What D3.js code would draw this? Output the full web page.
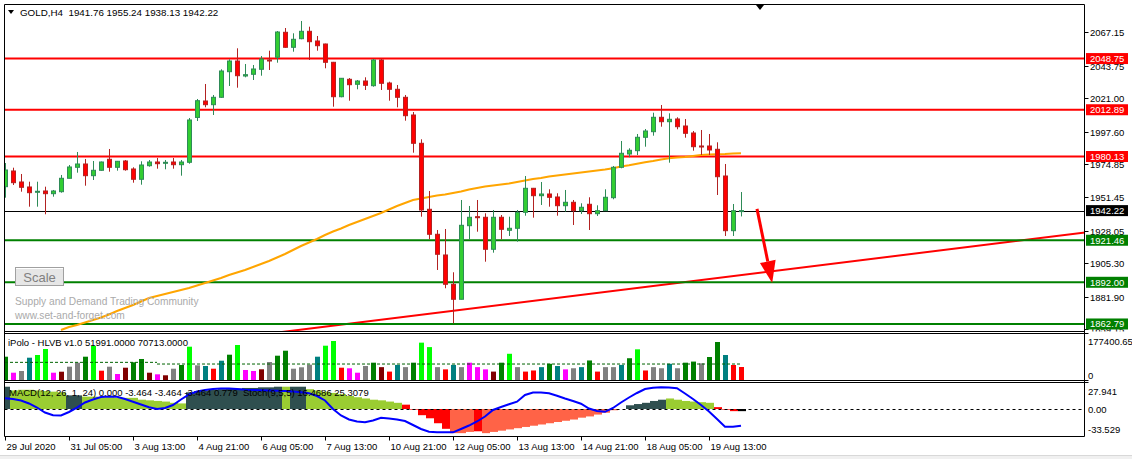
<!DOCTYPE html>
<html><head><meta charset="utf-8">
<script src="https://cdn.jsdelivr.net/npm/d3@7"></script>
<style>html,body{margin:0;padding:0;background:#fff;}svg{display:block;}text{font-family:"Liberation Sans",Arial,sans-serif;}</style>
</head><body>
<script>
// ---------------- DATA ----------------
const timeLabels = ["29 Jul 2020","31 Jul 05:00","3 Aug 13:00","4 Aug 21:00","6 Aug 05:00","7 Aug 13:00","10 Aug 21:00","12 Aug 05:00","13 Aug 13:00","14 Aug 21:00","18 Aug 05:00","19 Aug 13:00"];
const timeLabelIndex = [0,8,16,24,32,40,48,56,64,72,80,88];
const priceTicks = ["2067.15","2043.75","2021.00","1997.60","1974.85","1951.45","1928.05","1905.30","1881.90","1859.15"];

const opens  = [1958.98,1969.98,1962.27,1958.77,1955.27,1955.97,1954.08,1955.47,1964.86,1972.57,1974.88,1966.69,1970.47,1978.18,1972.57,1976.98,1971.38,1964.16,1973.69,1976.27,1975.37,1976.27,1974.39,1976.07,2007.5,2019.02,2016.43,2021.61,2039.55,2047.04,2036.53,2037.73,2041.23,2047.74,2049.64,2067.15,2056.64,2062.67,2067.85,2061.06,2058.95,2046.13,2022.03,2034.22,2030.72,2033.03,2029.74,2047.74,2031.63,2027.22,2021.61,2009.21,1989.38,1943.15,1925.63,1911.13,1890.60,1880.09,1931.65,1937.96,1937.54,1915.11,1937.54,1928.43,1929.83,1941.04,1957.85,1952.67,1953.86,1951.76,1945.66,1948.05,1942.16,1946.65,1940.06,1942.16,1951.27,1972.57,1981.89,1984.20,1993.59,1997.51,2007.60,2004.52,2006.41,2001.50,1996.60,1987.49,1987.49,1985.18,1966.47,1928.15,1941.76];
const highs  = [1975.58,1972.29,1967.87,1962.48,1962.48,1958.98,1956.67,1967.18,1974.18,1983.29,1978.39,1976.98,1976.6,1985.39,1977.0,1977.68,1972.57,1976.77,1977.68,1979.09,1977.68,1979.09,1977.68,2007.11,2020.42,2030.93,2023.22,2041.23,2048.23,2055.94,2044.94,2044.24,2050.55,2054.26,2068.06,2070.16,2066.45,2075.07,2071.07,2064.56,2059.2,2046.4,2035.0,2035.13,2033.73,2035.62,2048.45,2048.45,2032.54,2030.23,2023.22,2011.31,1992.19,1955.97,1928.64,1929.34,1899.01,1949.66,1945.46,1949.66,1940.34,1942.65,1939.15,1937.96,1942.65,1966.47,1958.1,1962.27,1957.16,1954.36,1956.67,1949.66,1947.35,1951.55,1945.94,1957.16,1973.48,1991.00,1985.88,1995.90,1999.40,2010.82,2016.22,2010.40,2007.60,2006.41,1998.00,1998.70,1995.90,1990.08,1974.88,1946.86,1955.24];
const lows   = [1951.27,1960.17,1955.47,1944.97,1944.97,1939.64,1951.97,1954.78,1964.86,1968.79,1959.67,1963.67,1970.2,1969.49,1970.19,1970.19,1961.78,1960.38,1972.99,1971.59,1971.17,1971.59,1966.69,1975.09,2005.0,2014.61,2009.21,2021.2,2029.53,2028.34,2035.62,2033.73,2036.74,2040.74,2045.85,2056.3,2053.56,2062.25,2047.74,2054.26,2041.93,2015.03,2021.61,2019.23,2027.22,2026.73,2029.04,2026.73,2019.23,2014.61,2005.22,1982.80,1937.96,1922.13,1900.62,1887.80,1863.28,1880.0,1922.13,1927.45,1906.43,1912.74,1922.13,1924.44,1920.45,1938.66,1937.26,1946.16,1944.97,1938.66,1941.46,1932.14,1939.85,1928.64,1938.45,1942.0,1950.15,1971.87,1979.58,1981.19,1987.00,1994.71,2001.01,1975.79,1999.19,1993.31,1984.20,1981.19,1981.19,1953.16,1924.44,1924.44,1938.13];
const closes = [1970.68,1961.78,1958.55,1954.78,1955.76,1954.08,1955.97,1964.86,1972.78,1974.88,1966.69,1970.47,1976.27,1972.57,1976.77,1970.89,1964.16,1974.18,1976.27,1975.09,1976.07,1974.39,1976.27,2005.71,2019.23,2016.43,2021.61,2040.04,2047.04,2036.74,2037.45,2041.44,2048.45,2047.25,2067.36,2056.64,2062.25,2067.85,2060.56,2057.76,2046.13,2022.03,2034.92,2030.44,2033.03,2030.02,2047.74,2031.42,2027.22,2021.61,2008.72,1989.38,1942.65,1925.63,1911.62,1890.60,1880.09,1931.93,1937.54,1937.26,1915.11,1937.54,1929.13,1929.83,1941.04,1957.85,1952.67,1953.86,1951.55,1945.66,1948.05,1942.16,1944.55,1940.06,1942.16,1951.55,1972.57,1982.38,1984.48,1993.59,1998.00,2007.60,2004.52,2006.20,2001.01,1996.39,1987.00,1987.28,1984.69,1965.98,1928.15,1942.16,1942.22];

// moving average (orange), starts at bar 7
const maStart = 7;
const maValues = [1858.58,1860.68,1862.08,1863.83,1865.59,1867.34,1869.44,1871.89,1873.99,1876.09,1878.54,1881.00,1882.40,1883.80,1885.20,1886.61,1888.01,1889.76,1891.51,1893.26,1895.01,1897.11,1898.86,1900.62,1902.72,1904.82,1906.92,1909.37,1911.83,1914.63,1917.43,1919.88,1922.33,1925.14,1927.59,1929.69,1932.14,1934.24,1936.35,1938.45,1940.55,1943.01,1945.46,1947.56,1949.66,1950.71,1951.76,1952.81,1953.51,1954.56,1955.62,1957.02,1958.07,1959.12,1959.82,1960.52,1961.22,1962.27,1963.32,1964.37,1965.07,1966.12,1966.82,1967.53,1968.23,1968.93,1969.63,1970.33,1971.03,1971.87,1973.13,1973.97,1975.02,1976.07,1976.98,1978.04,1978.88,1979.44,1979.79,1980.49,1981.19,1981.54,1981.75,1981.89,1982.17,1982.38];

const resistanceLevels = [2048.75, 2012.89, 1980.13];
const supportLevels = [1921.46, 1892.00, 1862.79];
const currentPrice = 1942.22;
const trendAnchors = [{i:30, p:1853.96},{i:136, p:1927.6}];
const arrowAnchors = {i0:94.0, p0:1943.4, i1:95.9, p1:1891.5};

// volume (iPolo HLVB)
const volumes = [106900,35000,42700,102400,114500,141500,35000,39500,62000,80000,106900,155000,44000,62000,29200,57500,81700,96600,35000,27800,23400,53000,69600,151800,68300,65100,53000,88900,115900,159400,47200,42700,50300,83100,111400,133800,53000,59300,71000,106900,156300,177400,57500,54800,35000,65100,80000,60000,40000,70000,60000,80000,170000,150000,60000,50000,70000,60000,80000,60000,50000,40000,80000,120000,60000,40000,45000,60000,75000,65000,50000,55000,60000,90000,40000,60000,60000,70000,100000,140000,45000,60000,55000,75000,55000,80000,85000,77200,105500,172900,114500,69600,60600];
const volColorCodes = "GMYTLLMNYYGLRYMNGGNMNYGLYTRTGLMMNYGGYYYTLLRMMYGNRTYGLLYRTYMMMNGLYRRTGTMYTGRYYTGLRYYTYGGYGGTRR";
const volColorMap = {G:"#008000",L:"#00FF00",M:"#FF00FF",Y:"#808080",T:"#008080",R:"#FF0000",N:"#800000"};
const volAvgSegments = [{from:0,to:19,v:81500},{from:19,to:92,v:74000}];
const volumeMax = 177400.65;

// MACD histogram and stochastic
const macdHist = [36,30,31,31,30,29,28,27,22,22,20,20,19,19,18,18,18,15,14,13,12,10,9,27,29,30,31,32,33,33,34,34,35,35,36,36,36,36,32,30,28,26,24,21,19,17,15,14,12,10,7,-1,-10,-15,-23,-32,-39,-39,-37,-36,-39,-37,-35,-33,-31,-29,-27,-25,-23,-21,-19,-17,-14,-12,-9,-6,-2,0,6,8,10,13,15,17,15,13,12,11,10,3,-1,-3.464,-3.464];
const macdColorCodes = "DYYYYYYYDDYYYYYYYYYYYYYDDDDDDDDDDDDYDDYYYYYYYYYYYYRRRRRRTTTRTTTTTTTTTTTTTTTTTDDDDDDYYYYYYRRR";
const macdColorMap = {Y:"#9ACD32",D:"#2F4F4F",R:"#FF0000",T:"#FF6347"};
const stochValues = [74.1,72.6,69.5,63.2,54.7,44.2,38.3,37.9,45.3,54.7,65.3,71.6,76.8,77.9,77.5,72.6,66.9,61.1,55.2,51.6,53.7,60.0,71.6,82.5,88.4,91.6,93.7,94.7,94.7,93.7,92.2,91.6,90.9,90.5,90.1,89.5,88.4,86.7,84.8,78.9,69.5,51.6,37.9,29.5,25.3,23.8,27.4,33.3,31.6,29.5,26.3,17.9,9.5,3.6,2.7,2.5,2.5,9.5,16.8,25.3,35.8,49.5,55.8,61.5,66.9,81.1,86.3,86.3,84.6,79.6,73.7,68.4,62.7,52.6,47.4,45.7,53.7,65.3,75.8,85.3,93.7,96.2,97.3,96.8,95.2,84.2,72.6,60.0,46.3,30.5,14.3,14.3,16.5];
const macdTicks = [27.941, 0, -33.529];
const macdTickLabels = ["27.941","0.00","-33.529"];

const headerText = "GOLD,H4  1941.76 1955.24 1938.13 1942.22";
const volHeader = "iPolo - HLVB v1.0 51991.0000 70713.0000";
const macdHeader = "MACD(12, 26, 1, 24) 0.000 -3.464 -3.464 -3.464 0.779  Stoch(9,5,5) 16.4686 25.3079";
const watermark = ["Supply and Demand Trading Community","www.set-and-forget.com"];

// ---------------- LAYOUT ----------------
const W = 1132, H = 459;
const L = 4.5, R = 1084.5;
const main = {top:4.5, bottom:331.5};
const volP = {top:334, bottom:380.5};
const macdP = {top:382.5, bottom:436.5};

const svg = d3.select("body").append("svg").attr("width",W).attr("height",H);
svg.append("rect").attr("width",W).attr("height",H).attr("fill","#ffffff");
svg.append("rect").attr("x",0).attr("y",455).attr("width",W).attr("height",4).attr("fill","#f0f0f0");
svg.append("line").attr("x1",0).attr("x2",W).attr("y1",455.5).attr("y2",455.5).attr("stroke","#d8d8d8");

const defs = svg.append("defs");
defs.append("clipPath").attr("id","cMain").append("rect").attr("x",L).attr("y",main.top).attr("width",R-L).attr("height",main.bottom-main.top);
defs.append("clipPath").attr("id","cMainAxis").append("rect").attr("x",R).attr("y",main.top).attr("width",W-R).attr("height",main.bottom-main.top);
defs.append("clipPath").attr("id","cVol").append("rect").attr("x",L).attr("y",volP.top).attr("width",R-L).attr("height",volP.bottom-volP.top);
defs.append("clipPath").attr("id","cMacd").append("rect").attr("x",L).attr("y",macdP.top).attr("width",R-L).attr("height",macdP.bottom-macdP.top);

const x = d3.scaleLinear().domain([0,92]).range([5,741]);
const y = d3.scaleLinear().domain([2067.15,1881.90]).range([32.3,296.7]);
const yv = d3.scaleLinear().domain([0,volumeMax]).range([380.5,341]);
const ym = d3.scaleLinear().domain([0,27.941]).range([409,391.7]);
const ys = d3.scaleLinear().domain([0,100]).range([433.5,386]);

// ---------- main panel ----------
const gm = svg.append("g").attr("clip-path","url(#cMain)");

svg.append("text").attr("x",15).attr("y",304.5).attr("font-size",10.2).attr("fill","#aaaaaa").text(watermark[0]);
svg.append("text").attr("x",15).attr("y",319).attr("font-size",10.2).attr("fill","#aaaaaa").text(watermark[1]);

const idx = d3.range(opens.length);
gm.append("line").attr("x1",x(trendAnchors[0].i)).attr("y1",y(trendAnchors[0].p)).attr("x2",x(trendAnchors[1].i)).attr("y2",y(trendAnchors[1].p)).attr("stroke","#ff0000").attr("stroke-width",2);

resistanceLevels.forEach(p=>gm.append("line").attr("x1",L).attr("x2",R).attr("y1",y(p)).attr("y2",y(p)).attr("stroke","#ff0000").attr("stroke-width",2));
supportLevels.forEach(p=>gm.append("line").attr("x1",L).attr("x2",R).attr("y1",y(p)).attr("y2",y(p)).attr("stroke","#008000").attr("stroke-width",2));
gm.append("line").attr("x1",L).attr("x2",R).attr("y1",Math.round(y(currentPrice))+0.5).attr("y2",Math.round(y(currentPrice))+0.5).attr("stroke","#000").attr("stroke-width",1);

gm.append("path").datum(maValues).attr("fill","none").attr("stroke","#FFA500").attr("stroke-width",2)
  .attr("d",d3.line().x((d,k)=>x(k+maStart)).y(d=>y(d)));

const gc = gm.append("g");
idx.forEach(i=>{
  const up = closes[i] >= opens[i];
  const cx = Math.round(x(i))+0.5;
  const col = up ? "#2E8B57" : "#B22222";
  gc.append("line").attr("x1",cx).attr("x2",cx).attr("y1",y(highs[i])).attr("y2",y(lows[i])).attr("stroke",col).attr("stroke-width",1);
  const top = Math.min(y(opens[i]),y(closes[i])), bot = Math.max(y(opens[i]),y(closes[i]));
  gc.append("rect").attr("x",cx-2).attr("y",top).attr("width",4).attr("height",Math.max(1,bot-top))
    .attr("fill",up?"#32CD32":"#FF0000").attr("stroke",col).attr("stroke-width",1);
});

const ax0=x(arrowAnchors.i0), ay0=y(arrowAnchors.p0), ax1=x(arrowAnchors.i1), ay1=y(arrowAnchors.p1);
const ang = Math.atan2(ay1-ay0, ax1-ax0);
const hl = 22, hw = 8;
const bx = ax1 - hl*Math.cos(ang), by = ay1 - hl*Math.sin(ang);
gm.append("line").attr("x1",ax0).attr("y1",ay0).attr("x2",bx).attr("y2",by).attr("stroke","#ff0000").attr("stroke-width",3);
gm.append("path").attr("d",`M${ax1},${ay1}L${bx+hw*Math.sin(ang)},${by-hw*Math.cos(ang)}L${bx-hw*Math.sin(ang)},${by+hw*Math.cos(ang)}Z`).attr("fill","#ff0000");

svg.append("rect").attr("x",15.5).attr("y",267.5).attr("width",48).attr("height",18).attr("fill","#e6e6e6").attr("stroke","#a0a0a0");
svg.append("line").attr("x1",16).attr("x2",63).attr("y1",268.5).attr("y2",268.5).attr("stroke","#ffffff");
svg.append("text").attr("x",39.5).attr("y",281.5).attr("text-anchor","middle").attr("font-size",13).attr("fill","#808080").text("Scale");

svg.append("path").attr("d","M8,10L14,10L11,14Z").attr("fill","#000");
svg.append("text").attr("x",20).attr("y",16).attr("font-size",9.8).attr("fill","#000").attr("xml:space","preserve").style("white-space","pre").text(headerText);
svg.append("path").attr("d","M756,5L764,5L760,10Z").attr("fill","#000");

const ga = svg.append("g").attr("clip-path","url(#cMainAxis)");
priceTicks.forEach(t=>{
  const yy = Math.round(y(+t))+0.5;
  ga.append("line").attr("x1",R).attr("x2",R+4).attr("y1",yy).attr("y2",yy).attr("stroke","#000");
  ga.append("text").attr("x",1090).attr("y",yy+3.5).attr("font-size",9.5).attr("fill","#000").text(t);
});
function tag(p,fill){
  const yy = y(p);
  ga.append("rect").attr("x",1086).attr("y",yy-5.5).attr("width",42).attr("height",11).attr("fill",fill);
  ga.append("text").attr("x",1090).attr("y",yy+3.5).attr("font-size",9.5).attr("fill","#fff").text(d3.format(".2f")(p));
}
resistanceLevels.forEach(p=>tag(p,"#ff0000"));
supportLevels.forEach(p=>tag(p,"#008000"));
tag(currentPrice,"#000000");

// ---------- volume panel ----------
const gv = svg.append("g").attr("clip-path","url(#cVol)");
volumes.forEach((v,i)=>{
  const cx = Math.round(x(i));
  gv.append("rect").attr("x",cx-2).attr("y",yv(v)).attr("width",5).attr("height",yv(0)-yv(v)).attr("fill",volColorMap[volColorCodes[i]]);
});
volAvgSegments.forEach(s=>{
  gv.append("line").attr("x1",x(s.from)).attr("x2",x(s.to)).attr("y1",yv(s.v)).attr("y2",yv(s.v)).attr("stroke","#006400").attr("stroke-dasharray","3,2");
});
svg.append("text").attr("x",8).attr("y",346).attr("font-size",9.5).attr("fill","#000").text(volHeader);
svg.append("text").attr("x",1088).attr("y",345).attr("font-size",9.5).attr("fill","#000").text("177400.65");
svg.append("text").attr("x",1088).attr("y",378.5).attr("font-size",9.5).attr("fill","#000").text("0");

// ---------- MACD panel ----------
const gmc = svg.append("g").attr("clip-path","url(#cMacd)");
macdHist.forEach((v,i)=>{
  const x0 = Math.round(x(i))-3;
  const y0 = Math.min(ym(0),ym(v)), hh = Math.abs(ym(v)-ym(0));
  gmc.append("rect").attr("x",x0).attr("y",y0).attr("width",8).attr("height",hh).attr("fill",macdColorMap[macdColorCodes[i]]);
});
gmc.append("line").attr("x1",L).attr("x2",R).attr("y1",Math.round(ym(0))+0.5).attr("y2",Math.round(ym(0))+0.5).attr("stroke","#000").attr("stroke-dasharray","3,3");
svg.append("text").attr("x",9).attr("y",396).attr("font-size",9.5).attr("fill","#000").attr("xml:space","preserve").style("white-space","pre").text(macdHeader);
gmc.append("path").datum(stochValues).attr("fill","none").attr("stroke","#0000ff").attr("stroke-width",2)
  .attr("d",d3.line().x((d,i)=>x(i)).y(d=>ys(d)));
macdTicks.forEach((t,k)=>{
  svg.append("text").attr("x",1088).attr("y",ym(t)+3.5).attr("font-size",9.5).attr("fill","#000").text(macdTickLabels[k]);
});

// ---------- frames ----------
const fr = svg.append("g").attr("stroke","#000").attr("fill","none");
fr.append("line").attr("x1",L).attr("x2",R).attr("y1",main.top).attr("y2",main.top);
fr.append("line").attr("x1",L).attr("x2",L).attr("y1",main.top).attr("y2",macdP.bottom);
fr.append("line").attr("x1",R).attr("x2",R).attr("y1",main.top).attr("y2",macdP.bottom);
[main.bottom, volP.top-0.5, volP.bottom, macdP.top, macdP.bottom].forEach(yy=>fr.append("line").attr("x1",L).attr("x2",R).attr("y1",yy).attr("y2",yy));
[volP.top-0.5, volP.bottom, macdP.top].forEach(yy=>fr.append("line").attr("x1",R).attr("x2",R+4).attr("y1",yy).attr("y2",yy));

// ---------- time axis ----------
timeLabelIndex.forEach((ti,k)=>{
  const xx = Math.round(x(ti))+0.5;
  svg.append("line").attr("x1",xx).attr("x2",xx).attr("y1",macdP.bottom).attr("y2",macdP.bottom+4).attr("stroke","#000");
  svg.append("text").attr("x",xx+1).attr("y",449.5).attr("font-size",9.5).attr("fill","#000").text(timeLabels[k]);
});
</script>
</body></html>
